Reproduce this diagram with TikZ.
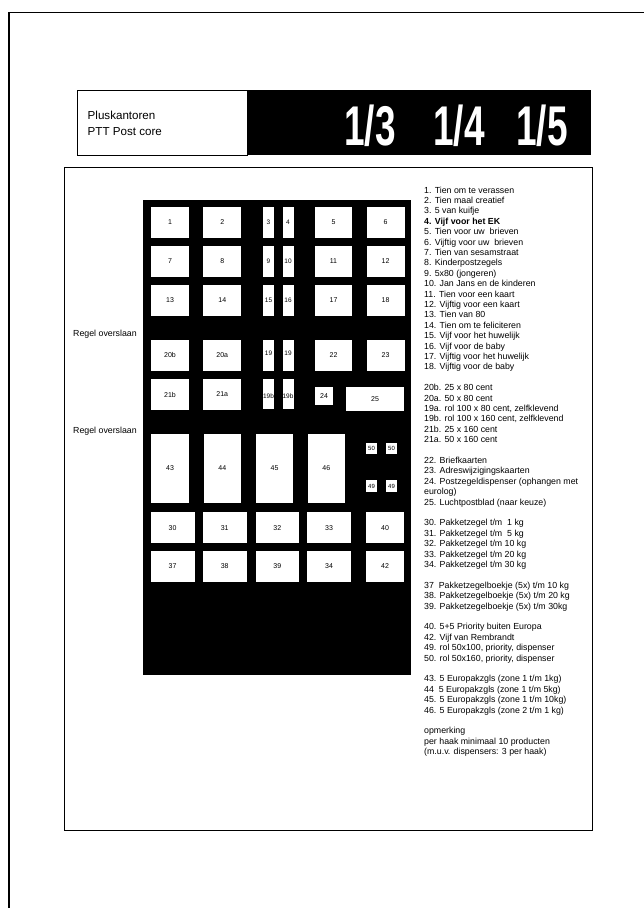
\documentclass[tikz,border=0pt]{standalone}
\usepackage{fontspec}
\setmainfont{Liberation Sans}

\begin{document}
\begin{tikzpicture}[x=1pt, y=-1pt,
    slot/.style={fill=white, inner sep=0pt, font=\fontsize{7}{8}\selectfont,
                 minimum width=38pt, minimum height=31pt},
    thin/.style={slot, minimum width=11pt, font=\fontsize{6.5}{7}\selectfont},
    wide/.style={slot, minimum width=44pt},
    tall/.style={slot, minimum width=37.5pt, minimum height=68.6pt},
    dot/.style={slot, minimum width=11pt, minimum height=11pt, font=\fontsize{6}{7}\selectfont},
    lst/.style={anchor=base west, inner sep=0pt, font=\fontsize{8.8}{10.4}\selectfont},
    big/.style={anchor=base, inner sep=0pt, text=white,
                font=\bfseries\fontsize{56}{56}\selectfont},
    rim/.style={draw=black, line width=0.8pt}]
  \useasboundingbox (0,0) rectangle (644,908);
  % edges of the scanned sheet
  \draw[line width=1.2pt] (9,908) -- (9,12.7) -- (644,12.7);

  % header
  \node[rim, fill=white, inner sep=0pt, anchor=north west,
        minimum width=170pt, minimum height=65pt] (hdr) at (77,90) {};
  \node[fill=black, inner sep=0pt, anchor=north west,
        minimum width=343pt, minimum height=65pt] (hbar) at (hdr.north east) {};
  \node[lst, font=\fontsize{11.6}{13}\selectfont] (tplus) at (87.5,119) {Pluskantoren};
  \node[lst, font=\fontsize{11.6}{13}\selectfont] (tptt)  at (87.5,135) {PTT Post core};
  \node[big] (f13) at (370,145) {\scalebox{0.66}[1]{1/3}};
  \node[big] (f14) at (459,145) {\scalebox{0.66}[1]{1/4}};
  \node[big] (f15) at (542,145) {\scalebox{0.66}[1]{1/5}};

  % sheet frame and hook panel
  \draw[line width=0.8pt] (64.5,167.5) rectangle (592,830);
  \fill[black] (142.5,200) rectangle (410.7,674.6);

  % rows 1-3
  \foreach \y/\a/\b/\c/\d/\e/\f in {222/1/2/3/4/5/6, 261.5/7/8/9/10/11/12,
                                    300.5/13/14/15/16/17/18} {
    \node[slot] (b\a) at (170,\y)   {\a};
    \node[slot] (b\b) at (222.3,\y) {\b};
    \node[thin] (b\c) at (268.5,\y) {\c};
    \node[thin] (b\d) at (288,\y)   {\d};
    \node[slot, minimum width=37pt] (b\e) at (333.5,\y) {\e};
    \node[slot] (b\f) at (385.6,\y) {\f};
  }
  % row 4
  \node[slot] (b20b) at (170,355.3)   {20b};
  \node[slot] (b20a) at (222.3,355.3) {20a};
  \node[thin] (b19l) at (268.5,355.3) {\raisebox{4pt}{19}};
  \node[thin] (b19r) at (288,355.3)   {\raisebox{4pt}{19}};
  \node[slot, minimum width=37pt] (b22) at (333.5,355.3) {22};
  \node[slot] (b23) at (385.6,355.3) {23};
  % row 5
  \node[slot] (b21b) at (170,394.5)   {21b};
  \node[slot] (b21a) at (222.3,394.5) {21a};
  \node[thin, minimum height=30pt] (b19bl) at (268.5,394) {\raisebox{-9pt}{19b}};
  \node[thin, minimum height=30pt] (b19br) at (288,394)   {\raisebox{-9pt}{19b}};
  \node[slot, minimum width=18pt, minimum height=18pt] (b24) at (324,396) {24};
  \node[slot, minimum width=58pt, minimum height=24pt] (b25) at (375,399) {25};

  % row 6
  \node[tall] (b43) at (170,468.3)   {43};
  \node[tall] (b44) at (222.3,468.3) {44};
  \node[tall] (b45) at (274.5,468.3) {45};
  \node[tall] (b46) at (326.3,468.3) {46};
  \node[dot] (b50l) at (371.5,448) {50};
  \node[dot] (b50r) at (391.5,448) {50};
  \node[dot, minimum height=12pt] (b49l) at (371.5,486) {49};
  \node[dot, minimum height=12pt] (b49r) at (391.5,486) {49};

  % rows 7-8
  \foreach \y/\a/\b/\c/\d/\e in {527.8/30/31/32/33/40, 566.5/37/38/39/34/42} {
    \node[wide] (b\a) at (172.5,\y) {\a};
    \node[wide] (b\b) at (224.7,\y) {\b};
    \node[wide, minimum width=43.5pt] (b\c) at (277.3,\y) {\c};
    \node[wide] (b\d) at (329,\y)   {\d};
    \node[slot] (b\e) at (385,\y)   {\e};
  }

  \node[lst] (reg1) at (73,336) {Regel overslaan};
  \node[lst] (reg2) at (73,433) {Regel overslaan};

  % key to the numbers
  \foreach \t [count=\i from 0] in {{1. Tien om te verassen}, {2. Tien maal creatief},
      {3. 5 van kuifje}, {\bfseries 4. Vijf voor het EK}, {5. Tien voor uw\ \ brieven},
      {6. Vijftig voor uw\ \ brieven}, {7. Tien van sesamstraat}, {8. Kinderpostzegels},
      {9. 5x80 (jongeren)}, {10. Jan Jans en de kinderen}, {11. Tien voor een kaart},
      {12. Vijftig voor een kaart}, {13. Tien van 80}, {14. Tien om te feliciteren},
      {15. Vijf voor het huwelijk}, {16. Vijf voor de baby},
      {17. Vijftig voor het huwelijk}, {18. Vijftig voor de baby}}
    \node[lst] (k\i) at (424,{193+\i*10.4}) {\t};
  \foreach \t [count=\i from 19] in {{20b. 25 x 80 cent}, {20a. 50 x 80 cent},
      {19a. rol 100 x 80 cent, zelfklevend}, {19b. rol 100 x 160 cent, zelfklevend},
      {21b. 25 x 160 cent}, {21a. 50 x 160 cent}}
    \node[lst] (k\i) at (424,{193+\i*10.4}) {\t};
  \foreach \t [count=\i from 26] in {{22. Briefkaarten}, {23. Adreswijzigingskaarten},
      {24. Postzegeldispenser (ophangen met}, {eurolog)}, {25. Luchtpostblad (naar keuze)}}
    \node[lst] (k\i) at (424,{193+\i*10.4}) {\t};
  \foreach \t [count=\i from 32] in {{30. Pakketzegel t/m\ \ 1 kg}, {31. Pakketzegel t/m\ \ 5 kg},
      {32. Pakketzegel t/m 10 kg}, {33. Pakketzegel t/m 20 kg}, {34. Pakketzegel t/m 30 kg}}
    \node[lst] (k\i) at (424,{193+\i*10.4}) {\t};
  \foreach \t [count=\i from 38] in {{37\ \ Pakketzegelboekje (5x) t/m 10 kg},
      {38. Pakketzegelboekje (5x) t/m 20 kg}, {39. Pakketzegelboekje (5x) t/m 30kg}}
    \node[lst] (k\i) at (424,{193+\i*10.4}) {\t};
  \foreach \t [count=\i from 42] in {{40. 5+5 Priority buiten Europa}, {42. Vijf van Rembrandt},
      {49. rol 50x100, priority, dispenser}, {50. rol 50x160, priority, dispenser}}
    \node[lst] (k\i) at (424,{193+\i*10.4}) {\t};
  \foreach \t [count=\i from 47] in {{43. 5 Europakzgls (zone 1 t/m 1kg)},
      {44\ \ 5 Europakzgls (zone 1 t/m 5kg)}, {45. 5 Europakzgls (zone 1 t/m 10kg)},
      {46. 5 Europakzgls (zone 2 t/m 1 kg)}}
    \node[lst] (k\i) at (424,{193+\i*10.4}) {\t};
  \foreach \t [count=\i from 52] in {{opmerking}, {per haak minimaal 10 producten},
      {(m.u.v. dispensers: 3 per haak)}}
    \node[lst] (k\i) at (424,{193+\i*10.4}) {\t};
\end{tikzpicture}
\end{document}
